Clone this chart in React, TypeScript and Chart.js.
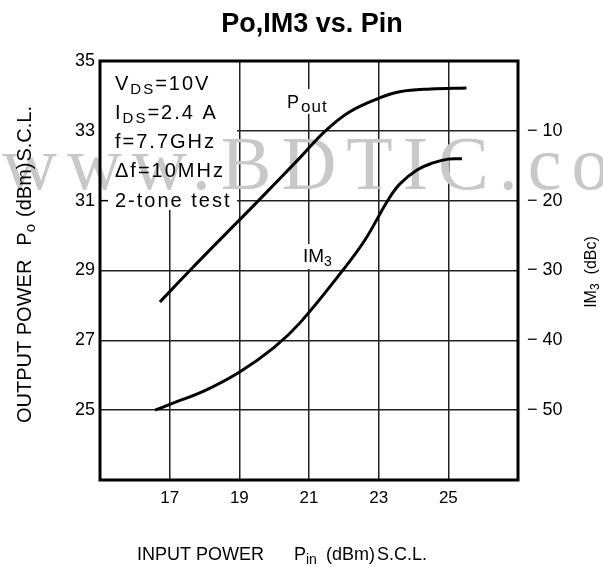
import React, { useEffect, useRef } from 'react';
import { Chart, registerables } from 'chart.js';

Chart.register(...registerables);

// ---- Data ----
const poutPin = [16.72, 17.58, 18.56, 19.55, 20.75, 21.45, 22.16, 23.02, 23.6, 24.5, 25.52];
const poutValues = [28.1, 29.0, 30.0, 31.0, 32.24, 32.98, 33.54, 33.94, 34.12, 34.2, 34.23];

const im3Pin = [16.58, 17.04, 18.01, 19.02, 20.0, 20.74, 21.95, 22.61, 23.27, 23.61, 24.1, 24.56, 24.99, 25.39];
const im3Values = [-50.0, -49.1, -47.2, -44.5, -41.0, -37.5, -30.1, -25.6, -19.9, -17.6, -15.6, -14.6, -14.05, -14.0];

const xTicks = [17, 19, 21, 23, 25];
const leftTicks = [25, 27, 29, 31, 33, 35];
const rightTicks = [-50, -40, -30, -20, -10];

const titleText = 'Po,IM3 vs. Pin';
type Seg = [string, boolean, number?];
const conditionLines: Seg[][] = [
  [['V', false], ['DS', true], ['=10V', false]],
  [['I', false], ['DS', true], ['=2.4 A', false]],
  [['f=7.7GHz', false]],
  [['\u0394f=10MHz', false]],
  [['2-tone test', false]],
];
const xTitle: Seg[] = [['INPUT POWER', false], ['P', false, 30], ['in', true], ['(dBm)', false, 9], ['S.C.L.', false, 2]];
const yTitle: Seg[] = [['OUTPUT POWER', false], ['P', false, 14], ['o', true], ['(dBm)', false, 7], ['S.C.L.', false, 1]];
const y1Title: Seg[] = [['IM', false], ['3', true], ['(dBc)', false, 9]];
const poutLabel: Seg[] = [['P', false], ['out', true, 1]];
const im3Label: Seg[] = [['IM', false], ['3', true]];
const watermark = 'www.BDTIC.com';

const FONT = '"Liberation Sans", Arial, sans-serif';

function measureRich(ctx: CanvasRenderingContext2D, segs: Seg[], size: number, subSize: number, spacing = 0) {
  let w = 0;
  for (const [t, sub, gap] of segs) {
    ctx.font = `${sub ? subSize : size}px ${FONT}`;
    (ctx as any).letterSpacing = spacing + 'px';
    w += (gap || 0) + ctx.measureText(t).width;
  }
  (ctx as any).letterSpacing = '0px';
  return w;
}

function drawRich(ctx: CanvasRenderingContext2D, segs: Seg[], x: number, y: number, size: number, subSize: number, subDy: number, spacing = 0) {
  let cx = x;
  ctx.textAlign = 'left';
  ctx.textBaseline = 'alphabetic';
  for (const [t, sub, gap] of segs) {
    cx += gap || 0;
    ctx.font = `${sub ? subSize : size}px ${FONT}`;
    (ctx as any).letterSpacing = spacing + 'px';
    ctx.fillText(t, cx, y + (sub ? subDy : 0));
    cx += ctx.measureText(t).width;
  }
  (ctx as any).letterSpacing = '0px';
}

const decorPlugin = {
  id: 'decor',
  beforeDatasetsDraw(chart: any) {
    const ctx: CanvasRenderingContext2D = chart.ctx;
    const area = chart.chartArea;
    ctx.save();
    // white box behind the conditions text
    ctx.fillStyle = '#fff';
    ctx.fillRect(area.left, area.top, 137, 149);
    // white backgrounds behind curve labels
    ctx.fillRect(284, 89, 50, 25);
    ctx.fillRect(300, 244, 37, 25);
    // small tick at 31 inside the box
    const y31 = chart.scales.y.getPixelForValue(31);
    ctx.strokeStyle = '#000';
    ctx.lineWidth = 1.5;
    ctx.beginPath();
    ctx.moveTo(area.left, y31);
    ctx.lineTo(area.left + 8, y31);
    ctx.stroke();
    // watermark
    ctx.fillStyle = '#c8c8c8';
    ctx.font = '76px "Liberation Serif", "Times New Roman", serif';
    (ctx as any).letterSpacing = '10px';
    ctx.textAlign = 'left';
    ctx.textBaseline = 'alphabetic';
    ctx.fillText(watermark, 2, 189);
    (ctx as any).letterSpacing = '0px';
    ctx.restore();
  },
  afterDraw(chart: any) {
    const ctx: CanvasRenderingContext2D = chart.ctx;
    const area = chart.chartArea;
    ctx.save();
    ctx.fillStyle = '#000';
    ctx.strokeStyle = '#000';
    // frame
    ctx.lineWidth = 3;
    ctx.strokeRect(area.left, area.top, area.right - area.left, area.bottom - area.top);

    // title
    ctx.font = `bold 27px ${FONT}`;
    ctx.textAlign = 'center';
    ctx.textBaseline = 'alphabetic';
    ctx.fillText(titleText, 312, 32);

    // conditions
    const baselines = [90, 119, 148, 177, 207];
    conditionLines.forEach((segs, i) => drawRich(ctx, segs, 115, baselines[i], 20, 15, 4, 2));

    // curve labels
    drawRich(ctx, poutLabel, 287, 108, 18, 17, 4, 1);
    drawRich(ctx, im3Label, 303, 262, 19, 14, 4, 0);

    // x title
    drawRich(ctx, xTitle, 137, 560, 18, 14, 4);

    // left y title (reads bottom to top, starts at y=423)
    ctx.save();
    ctx.translate(31, 423);
    ctx.rotate(-Math.PI / 2);
    drawRich(ctx, yTitle, 0, 0, 20, 15, 4);
    ctx.restore();

    // right y title
    ctx.save();
    ctx.translate(596, 272);
    ctx.rotate(-Math.PI / 2);
    const rw = measureRich(ctx, y1Title, 16, 12);
    drawRich(ctx, y1Title, -rw / 2, 0, 16, 12, 3);
    ctx.restore();

    ctx.restore();
  },
};

export default function App() {
  const canvasRef = useRef<HTMLCanvasElement | null>(null);

  useEffect(() => {
    const canvas = canvasRef.current;
    if (!canvas) return;
    const grid = { color: '#222', lineWidth: 1.5, drawTicks: false };
    const chart = new Chart(canvas, {
      type: 'line',
      data: {
        datasets: [
          {
            label: 'Pout',
            data: poutPin.map((x, i) => ({ x, y: poutValues[i] })),
            yAxisID: 'y',
            borderColor: '#000',
            borderWidth: 3,
            pointRadius: 0,
            tension: 0.4,
            fill: false,
          },
          {
            label: 'IM3',
            data: im3Pin.map((x, i) => ({ x, y: im3Values[i] })),
            yAxisID: 'y1',
            borderColor: '#000',
            borderWidth: 3,
            pointRadius: 0,
            tension: 0.4,
            fill: false,
          },
        ],
      },
      options: {
        responsive: false,
        animation: false,
        devicePixelRatio: 1,
        layout: { padding: { top: 61, left: 0, right: 0, bottom: 0 } },
        plugins: { legend: { display: false }, tooltip: { enabled: false }, title: { display: false } },
        scales: {
          x: {
            type: 'linear',
            position: 'bottom',
            min: 15,
            max: 27,
            afterBuildTicks: (s: any) => { s.ticks = xTicks.map((v) => ({ value: v })); },
            afterFit: (s: any) => { s.height = 87; },
            ticks: { color: '#000', font: { family: FONT, size: 17 }, padding: 8, callback: (v: any) => String(v) },
            grid,
            border: { display: false },
          },
          y: {
            type: 'linear',
            position: 'left',
            min: 23,
            max: 35,
            afterBuildTicks: (s: any) => { s.ticks = leftTicks.map((v) => ({ value: v })); },
            afterFit: (s: any) => { s.width = 100; },
            ticks: { color: '#000', font: { family: FONT, size: 18 }, padding: 5, callback: (v: any) => String(v) },
            grid,
            border: { display: false },
          },
          y1: {
            type: 'linear',
            position: 'right',
            min: -60,
            max: 0,
            afterBuildTicks: (s: any) => { s.ticks = rightTicks.map((v) => ({ value: v })); },
            afterFit: (s: any) => { s.width = 85; },
            ticks: { color: '#000', font: { family: FONT, size: 18 }, padding: 9, callback: (v: any) => '\u2212 ' + Math.abs(v) },
            grid: { drawOnChartArea: false, drawTicks: false },
            border: { display: false },
          },
        },
      },
      plugins: [decorPlugin],
    } as any);
    return () => chart.destroy();
  }, []);

  return (
    <div style={{ position: 'fixed', left: 0, top: 0, width: 603, height: 567, background: '#fff' }}>
      <canvas ref={canvasRef} width={603} height={567} />
    </div>
  );
}
